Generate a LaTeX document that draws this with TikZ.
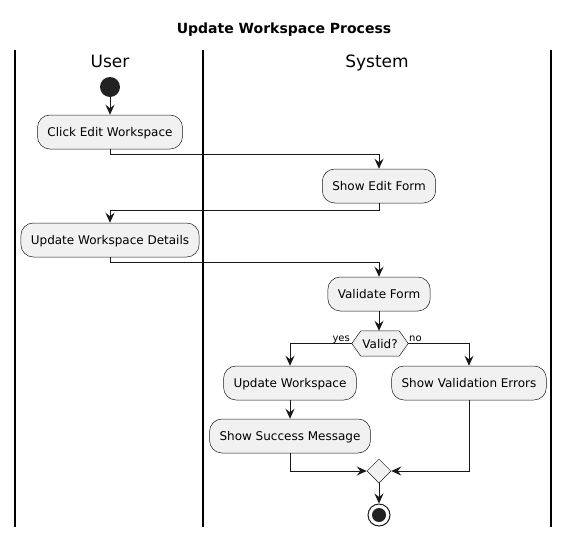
\documentclass[tikz,border=0pt]{standalone}
\usepackage{fontspec}
\setmainfont{DejaVu Sans}
\usetikzlibrary{arrows.meta,shapes.geometric,calc}
\definecolor{boxfill}{HTML}{F1F1F1}
\definecolor{ink}{HTML}{181818}
\definecolor{dot}{HTML}{222222}
\tikzset{
  act/.style={draw=ink, line width=0.5pt, fill=boxfill, rounded corners=12.5pt,
    minimum height=34pt, inner xsep=10pt, inner ysep=0pt,
    text height=10.6pt, text depth=1pt, font=\fontsize{12}{14}\selectfont},
  arr/.style={draw=ink, line width=1pt, -{Stealth[length=10pt,width=9pt,inset=3.5pt]}},
  lane/.style={draw=black, line width=1.5pt},
  lanetitle/.style={font=\fontsize{17}{20}\selectfont, anchor=base},
  lbl/.style={font=\fontsize{10}{12}\selectfont, inner sep=0pt},
}
\begin{document}
\begin{tikzpicture}[x=1pt,y=-1pt]
\useasboundingbox (0,0) rectangle (569,536);
\node[font=\bfseries\fontsize{14}{16}\selectfont, anchor=base] (title) at (284,33) {Update Workspace Process};
% lanes
\coordinate (l1t) at (15,50); \coordinate (l1b) at (15,527);
\coordinate (l2t) at (203,50); \coordinate (l2b) at (203,527);
\coordinate (l3t) at (551,50); \coordinate (l3b) at (551,527);
\draw[lane] (l1t) -- (l1b);
\draw[lane] (l2t) -- (l2b);
\draw[lane] (l3t) -- (l3b);
\node[lanetitle] (user) at (110,67) {User};
\node[lanetitle] (system) at (377,67) {System};
% nodes
\node[circle, fill=dot, minimum size=20pt, inner sep=0pt] (start) at (110,87) {};
\node[act] (click) at (110,132) {Click Edit Workspace};
\node[act] (showedit) at (379,186) {Show Edit Form};
\node[act] (updetails) at (110,240) {Update Workspace Details};
\node[act] (validate) at (379,294) {Validate Form};
\node[minimum width=56pt, minimum height=25pt, inner sep=0pt] (valid) at (380,343.5) {};
\fill[boxfill] (valid.west) -- ($(valid.north west)+(9,0)$) -- ($(valid.north east)+(-9,0)$)
  -- (valid.east) -- ($(valid.south east)+(-9,0)$) -- ($(valid.south west)+(9,0)$) -- cycle;
\draw[ink, line width=0.5pt] (valid.west) -- ($(valid.north west)+(9,0)$) -- ($(valid.north east)+(-9,0)$)
  -- (valid.east) -- ($(valid.south east)+(-9,0)$) -- ($(valid.south west)+(9,0)$) -- cycle;
\node[font=\fontsize{12}{14}\selectfont, text height=10.6pt, text depth=1pt, inner sep=0pt] (validtxt) at (valid.center) {Valid?};
\node[act] (updws) at (290,383) {Update Workspace};
\node[act] (showval) at (469,383) {Show Validation Errors};
\node[act] (success) at (290,436) {Show Success Message};
\node[diamond, draw=ink, line width=0.5pt, fill=boxfill, minimum width=24pt, minimum height=24pt, inner sep=0pt] (merge) at (379,471) {};
\node[circle, draw=ink, line width=1pt, fill=white, minimum size=22pt, inner sep=0pt] (endo) at (379,515) {};
\node[circle, fill=dot, minimum size=14pt, inner sep=0pt] (endi) at (endo.center) {};
% labels
\node[lbl, anchor=base east] (yes) at (350,341) {yes};
\node[lbl, anchor=base west] (no) at (409,341) {no};
% connectors
\draw[arr] (start) -- (click);
\draw[arr] (click.south) -- ++(0,5) -| (showedit.north);
\draw[arr] (showedit.south) -- ++(0,7) -| (updetails.north);
\draw[arr] (updetails.south) -- ++(0,5) -| (validate.north);
\draw[arr] (validate.south) -- (valid.north -| validate.south);
\draw[arr] (valid.west) -| (updws.north);
\draw[arr] (valid.east) -| (showval.north);
\draw[arr] (updws) -- (success);
\draw[arr] (success.south) |- (merge.west);
\draw[arr] (showval.south) |- (merge.east);
\draw[arr] (merge.south) -- (endo.north);
\end{tikzpicture}
\end{document}
